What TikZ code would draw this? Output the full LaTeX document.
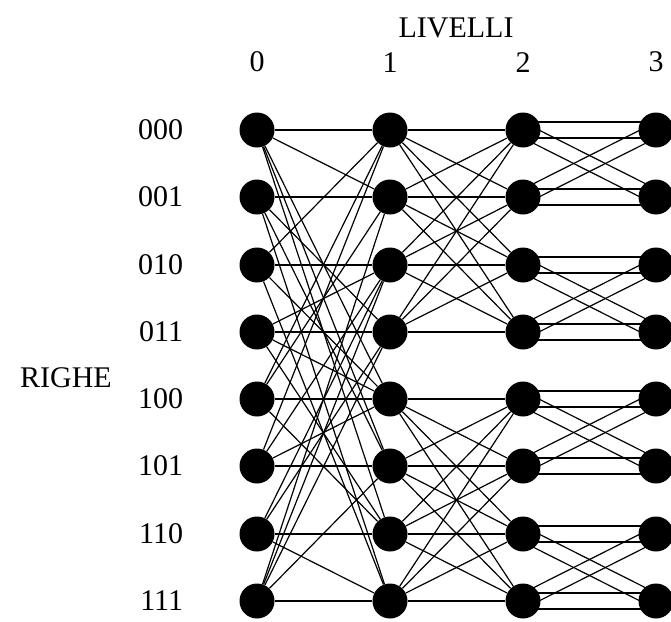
\documentclass[tikz,border=0pt]{standalone}
\usepackage{fontspec}
\setmainfont{Liberation Serif}
\usetikzlibrary{positioning}

\begin{document}
\begin{tikzpicture}[x=1pt, y=-1pt,
    vertex/.style={circle, fill=black, inner sep=0pt, minimum size=35pt},
    link/.style={line width=1.2pt},
    lbl/.style={font=\fontsize{30}{34}\selectfont, inner sep=0pt}]
  \useasboundingbox (0,0) rectangle (671,621);
  \clip (0,0) rectangle (671,621);
  % nodi
  \foreach \c/\x in {0/257,1/390,2/523,3/656}
    \foreach \r/\y in {0/130,1/197,2/265,3/332,4/399,5/466,6/534,7/601}
      \node[vertex] (n\c\r) at (\x,\y) {};
  % etichette
  \node[lbl] (livelli) at (456,28) {LIVELLI};
  \foreach \c in {0,...,3}
    \node[lbl, above=40pt of n\c0] (col\c) {\c};
  \foreach \r/\b in {0/000,1/001,2/010,3/011,4/100,5/101,6/110,7/111}
    \node[lbl, left=56pt of n0\r] (row\r) {\b};
  \node[lbl] (righe) at (66,378) {RIGHE};
  % livello 0 -> 1
  \foreach \i/\j in {0/0,1/1,2/2,3/3,4/4,5/5,6/6,7/7,
                     0/1,1/3,2/0,3/2,4/6,5/4,6/7,7/5,
                     0/4,0/5,0/6,1/5,1/7,2/4,2/7,3/4,3/6,
                     4/0,4/1,5/0,5/2,6/2,6/3,7/1,7/2,7/3}
    \draw[link] (n0\i) -- (n1\j);
  % livello 1 -> 2
  \foreach \h in {0,4}
    \foreach \i in {0,...,3}
      \foreach \j in {0,...,3} {
        \pgfmathtruncatemacro\a{\h+\i}
        \pgfmathtruncatemacro\b{\h+\j}
        \draw[link] (n1\a) -- (n2\b);
      }
  % livello 2 -> 3 (archi doppi)
  \foreach \p in {0,2,4,6}
    \foreach \i in {0,1}
      \foreach \j in {0,1} {
        \pgfmathtruncatemacro\a{\p+\i}
        \pgfmathtruncatemacro\b{\p+\j}
        \draw[link] ([yshift=8pt]n2\a.center) -- ([yshift=8pt]n3\b.center);
        \draw[link] ([yshift=-8pt]n2\a.center) -- ([yshift=-8pt]n3\b.center);
      }
\end{tikzpicture}
\end{document}
